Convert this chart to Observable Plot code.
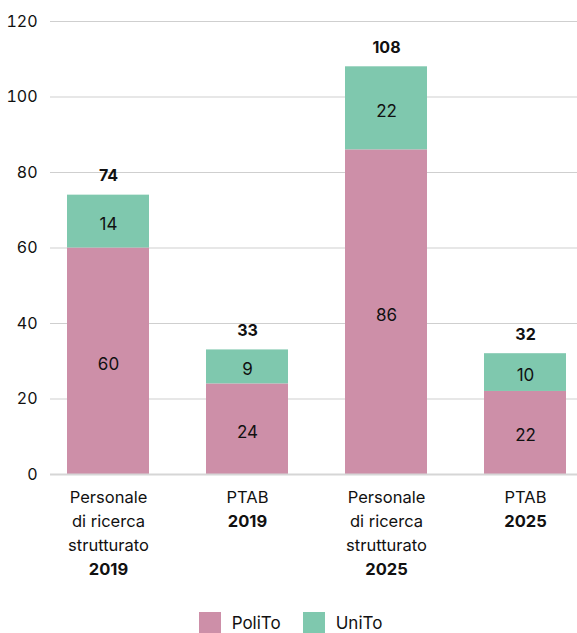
<!DOCTYPE html>
<html><head><meta charset="utf-8">
<script src="https://cdn.jsdelivr.net/npm/d3@7"></script>
<script src="https://cdn.jsdelivr.net/npm/@observablehq/plot@0.6"></script>
<style>
body{margin:0;background:#fff;font-family:Inter,"Open Sans",sans-serif;}
#legend{display:flex;justify-content:center;gap:22px;font-size:17px;color:#111;margin-top:16px;padding-left:4px;}
#legend .it{display:flex;align-items:center;gap:11px;}
#legend .sw{width:22px;height:22px;display:inline-block;}
</style></head><body>
<div id="chart"></div>
<div id="legend"></div>
<script>
const categories = ["PRS2019", "PTAB2019", "PRS2025", "PTAB2025"];
const labelsNormal = ["Personale\ndi ricerca\nstrutturato", "PTAB", "Personale\ndi ricerca\nstrutturato", "PTAB"];
const labelsYear = ["2019", "2019", "2025", "2025"];
const labelLines = [3, 1, 3, 1];
const series = ["PoliTo", "UniTo"];
const polito = [60, 24, 86, 22];
const unito = [14, 9, 22, 10];
const yTicks = [0, 20, 40, 60, 80, 100, 120];
const colors = ["#cd8fa8", "#7fc8ae"];

const rows = [];
categories.forEach((c, i) => rows.push({cat: c, series: "PoliTo", value: polito[i]}));
categories.forEach((c, i) => rows.push({cat: c, series: "UniTo", value: unito[i]}));
const totals = categories.map((c, i) => ({cat: c, total: polito[i] + unito[i]}));
const xlab = categories.map((c, i) => ({cat: c, normal: labelsNormal[i], year: "\n".repeat(labelLines[i]) + labelsYear[i]}));

const font = "Inter, 'Open Sans', sans-serif";
const plot = Plot.plot({
  width: 577, height: 596,
  marginLeft: 50, marginRight: 0, marginTop: 21, marginBottom: 122,
  style: {fontSize: "16px", fontFamily: font, color: "#111", background: "#fff"},
  x: {domain: categories, range: [50, 583], paddingInner: 0.413, paddingOuter: 0.1145, axis: null},
  y: {domain: [0, 120], ticks: yTicks, tickSize: 0, tickPadding: 13, label: null},
  color: {domain: series, range: colors},
  marks: [
    Plot.ruleY(yTicks.filter(d => d > 0), {stroke: "#cfcfcf", strokeWidth: 1}),
    Plot.barY(rows, {x: "cat", y: "value", fill: "series", order: series}),
    Plot.ruleY([0], {stroke: "#d6d6d6", strokeWidth: 2}),
    Plot.text(rows, Plot.stackY({x: "cat", y: "value", z: "series", order: series, text: d => String(d.value), dy: 3, fill: "#111", fontSize: 17})),
    Plot.text(totals, {x: "cat", y: "total", text: d => String(d.total), dy: -19, fontWeight: "bold", fill: "#111", fontSize: 16}),
    Plot.text(xlab, {x: "cat", y: 0, text: "normal", lineAnchor: "top", lineHeight: 1.45, dy: 12, fill: "#111", fontSize: 16.5}),
    Plot.text(xlab, {x: "cat", y: 0, text: "year", lineAnchor: "top", lineHeight: 1.45, dy: 12, fontWeight: "bold", fill: "#111", fontSize: 16.5})
  ]
});
document.getElementById("chart").appendChild(plot);

const lg = document.getElementById("legend");
series.forEach((s, i) => {
  const it = document.createElement("div"); it.className = "it";
  const sw = document.createElement("span"); sw.className = "sw"; sw.style.background = colors[i];
  const t = document.createElement("span"); t.textContent = s;
  it.appendChild(sw); it.appendChild(t); lg.appendChild(it);
});
</script>
</body></html>
